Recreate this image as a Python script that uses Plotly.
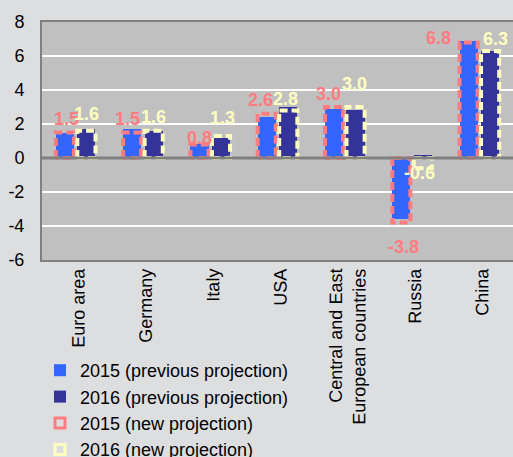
import numpy as np
import plotly.graph_objects as go

# GDP growth outlook by economy, % (previous vs. new projection)
categories = ["Euro area", "Germany", "Italy", "USA",
              "Central and East<br>European countries", "Russia", "China"]
prev_2015 = [1.5, 1.7, 0.8, 2.4, 2.9, -3.6, 6.9]
prev_2016 = [1.7, 1.6, 1.2, 3.0, 2.8, 0.2, 6.3]
new_2015 = [1.5, 1.5, 0.8, 2.6, 3.0, -3.8, 6.8]
new_2016 = [1.6, 1.6, 1.3, 2.8, 3.0, -0.6, 6.3]
y_ticks = [-6, -4, -2, 0, 2, 4, 6, 8]
y_tick_labels = [str(v) for v in y_ticks]

# label nudges in pixels (dx, dy) so that neighbouring labels do not collide
nudge_2015 = [(2, 14), (-5, 14), (0, 6), (-6, 14), (-6, 13), (2, -24), (-30, 4)]
nudge_2016 = [(0, 17), (0, 14), (2, 18), (-3, 11), (-1, 23), (-3, -5), (5, 12)]

BLUE = "#3366ff"
NAVY = "#333399"
SALMON = "#ff7c80"
CREAM = "#ffffc0"
FONT = "Liberation Sans, Arial, sans-serif"

idx = np.arange(len(categories))
shift = 0.16
bw = 0.27
x15 = idx - shift
x16 = idx + shift

fig = go.Figure()

fig.add_trace(go.Bar(x=x15, y=prev_2015, width=bw, marker=dict(color=BLUE, line_width=0),
                     name="2015 (previous projection)"))
fig.add_trace(go.Bar(x=x16, y=prev_2016, width=bw, marker=dict(color=NAVY, line_width=0),
                     name="2016 (previous projection)"))


def outline_path(xc, vals):
    xs, ys = [], []
    for x, v in zip(xc, vals):
        x0, x1 = x - bw / 2, x + bw / 2
        xs += [x0, x0, x1, x1, x0, None]
        ys += [0, v, v, 0, 0, None]
    return xs, ys


for xc, vals, col, nm in [(x15, new_2015, SALMON, "2015 (new projection)"),
                          (x16, new_2016, CREAM, "2016 (new projection)")]:
    xs, ys = outline_path(xc, vals)
    fig.add_trace(go.Scatter(x=xs, y=ys, mode="lines", showlegend=False,
                             line=dict(color=col, width=4, dash="8px,4px"),
                             hoverinfo="skip"))
    # legend swatch for the dashed-outline series
    fig.add_trace(go.Scatter(x=[None], y=[None], mode="markers", name=nm,
                             marker=dict(symbol="square-open", size=10, color=col,
                                         line=dict(color=col, width=3))))

annotations = []
for xc, vals, col, nud in [(x15, new_2015, SALMON, nudge_2015),
                           (x16, new_2016, CREAM, nudge_2016)]:
    for x, v, (dx, dy) in zip(xc, vals, nud):
        annotations.append(dict(x=x, y=v, text=f"<b>{v:.1f}</b>", showarrow=False,
                                xshift=dx, yshift=dy, xanchor="center", yanchor="middle",
                                font=dict(family=FONT, size=18, color=col)))

fig.update_layout(
    width=513, height=457,
    margin=dict(l=42, r=0, t=22, b=197, autoexpand=False),
    paper_bgcolor="#dddee0",
    plot_bgcolor="#c0c0c0",
    barmode="overlay",
    bargap=0,
    showlegend=True,
    font=dict(family=FONT, size=18, color="#000000"),
    annotations=annotations,
    legend=dict(xref="container", yref="container", x=40 / 513, y=1 - 352 / 457,
                xanchor="left", yanchor="top", bgcolor="rgba(0,0,0,0)",
                font=dict(family=FONT, size=18, color="#000000"),
                tracegroupgap=0, itemwidth=30, traceorder="normal"),
    xaxis=dict(range=[-0.5, 6.5], tickmode="array", tickvals=idx, ticktext=categories,
               tickangle=-89.9, showgrid=False, zeroline=False,
               showline=True, linecolor="#808080", linewidth=2, mirror=True,
               ticks="", ticklabelstandoff=-6,
               tickfont=dict(family=FONT, size=18, color="#000000")),
    yaxis=dict(range=[-6, 8], tickmode="array", tickvals=y_ticks, ticktext=y_tick_labels,
               showgrid=True, gridcolor="#ffffff", gridwidth=2,
               zeroline=False, showline=True, linecolor="#808080", linewidth=2,
               ticks="", ticklabelstandoff=12,
               tickfont=dict(family=FONT, size=18, color="#000000")),
    shapes=[dict(type="line", xref="paper", yref="y", x0=0, x1=1, y0=0, y1=0,
                 line=dict(color="#808080", width=3), layer="above")],
)

fig.write_html("out.html")
